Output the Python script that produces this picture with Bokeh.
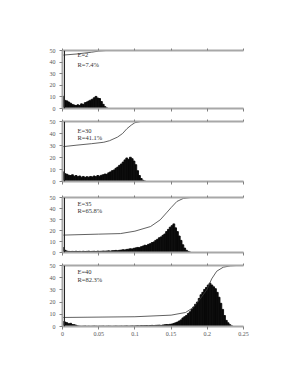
from bokeh.plotting import figure
from bokeh.layouts import column
from bokeh.models import Label, Span, LinearAxis, FixedTicker, Range1d, CustomLabelingPolicy
from bokeh.embed import file_html
from bokeh.resources import INLINE

BIN = 0.0025
x_ticks = [0, 0.05, 0.1, 0.15, 0.2, 0.25]
x_tick_labels = ["0", "0.05", "0.1", "0.15", "0.2", "0.25"]
y_ticks = [0, 10, 20, 30, 40, 50]

hist1 = [10.5, 7, 6.5, 5.5, 4.5, 3.5, 3, 2.5, 3.2, 2.6, 4, 3.4, 5, 5.6, 6.4, 7.2,
         8, 9.2, 10.4, 9, 8.6, 6, 3.6, 1.6, 0.5, 0]
hist2 = [8, 6.5, 6, 5.2, 5, 5.6, 4.4, 5, 4, 4.6, 3.6, 4.2, 3.4, 4, 3.6, 4.2, 3.8,
         4.6, 4, 5, 4.4, 5.2, 5.6, 6.2, 6, 7.2, 8, 9, 9.6, 11, 12, 13.4, 14.6, 16.2,
         18, 19.6, 18.4, 20.2, 19, 17, 14, 9, 5, 2.5, 1, 0.3, 0]
hist3 = [4.5, 2, 1.2, 1, 0.8,
         1, 0.8, 1.1, 0.9, 1, 0.7, 1.1, 0.9, 1, 1.2, 0.8, 1, 1.1, 0.9, 1.2, 1, 1.1, 1.3, 1.2,
         1.3, 1.5, 1.2, 1.6, 1.7, 1.9, 1.6, 2, 2.2, 2.5, 2.3, 2.8, 3, 3.4, 3.2, 3.8,
         4.2, 4.6, 4.4, 5.2, 5.8, 6.6, 6.4, 7.4, 8, 9, 9.6, 11, 12, 13.4, 14.2, 15.6,
         16.8, 19, 21, 23, 24.4, 26, 22.4, 19, 15, 11, 7, 4, 2, 1, 0.3]
hist4 = [4, 3.6, 3, 2.2, 2.6, 1.6, 1.5, 1, 0.5,
         0.3, 0.2, 0.3, 0.4, 0.2, 0.3, 0.2, 0.3, 0.4, 0.3, 0.2, 0.3, 0.3, 0.4, 0.2, 0.3,
         0.4, 0.3, 0.2, 0.3, 0.4, 0.3, 0.3, 0.4, 0.3, 0.4, 0.5, 0.3, 0.4, 0.5, 0.4,
         0.5, 0.6, 0.5, 0.7, 0.6, 0.7, 0.8, 0.6, 0.8, 0.9, 0.7, 0.9,
         1, 1.1, 0.9, 1.2, 1.4, 1.6, 1.5, 1.8,
         2, 2.5, 3, 3.6, 4.5, 5.4, 7, 8, 9, 10.6, 12, 14, 16, 18.2, 20, 23, 26, 28,
         30.4, 32, 34, 35.5, 34, 32.5, 31, 28, 24, 19, 14, 9, 5, 3, 1.5, 0.5, 0]

c1_x = [0, 0, 0.02, 0.04, 0.05, 0.06, 0.25]
c1_y = [0, 46, 47, 48.5, 49.5, 50, 50]
c2_x = [0, 0, 0.02, 0.04, 0.057, 0.065, 0.076, 0.083, 0.089, 0.095, 0.1, 0.108, 0.25]
c2_y = [0, 29, 30.3, 31.5, 32.7, 34, 37, 40, 44, 47, 49, 50, 50]
c3_x = [0, 0, 0.05, 0.08, 0.1, 0.1216, 0.135, 0.1445, 0.15, 0.158, 0.167, 0.177, 0.25]
c3_y = [0, 15.8, 16.7, 17.2, 19.4, 23.6, 29.7, 36.7, 40.8, 46.4, 49.2, 50, 50]
c4_x = [0, 0, 0.1, 0.15, 0.17, 0.181, 0.19, 0.2, 0.206, 0.213, 0.222, 0.232, 0.24, 0.25]
c4_y = [0, 7.4, 8, 9.3, 11.5, 15.7, 22.5, 30.8, 39, 45.3, 48.6, 49.7, 50, 50]

e_labels = ["E=2", "E=30", "E=35", "E=40"]
r_labels = ["R=7.4%", "R=41.1%", "R=65.8%", "R=82.3%"]

FONT = "Liberation Serif"
AX = "#a8a8a8"
TK = "#808080"

panels = [
    (hist1, c1_x, c1_y, 115, 50, 5, 46.7, 38.3),
    (hist2, c2_x, c2_y, 76, 6, 10, 42.5, 36.7),
    (hist3, c3_x, c3_y, 68, 3, 5, 44.4, 38.0),
    (hist4, c4_x, c4_y, 89, 6, 22, 45.0, 38.9),
]


def no_labels():
    return CustomLabelingPolicy(code="for (const i of indices) indices.unset(i); return indices")


figs = []
for i, (h, cx, cy, H, bt, bb, ey, ry) in enumerate(panels):
    last = i == len(panels) - 1
    p = figure(width=253, height=H, x_range=Range1d(0, 0.25), y_range=Range1d(0, 50),
               output_backend="svg", toolbar_location=None,
               min_border_left=62, min_border_right=10,
               min_border_top=bt, min_border_bottom=bb)
    p.outline_line_color = None
    p.grid.visible = False
    p.background_fill_color = "white"
    p.border_fill_color = "white"

    lefts = [k * BIN for k in range(len(h))]
    rights = [(k + 1) * BIN for k in range(len(h))]
    p.quad(left=lefts, right=rights, bottom=0, top=h, fill_color="#0a0a0a",
           line_color="#0a0a0a", line_width=0.9)
    p.line(cx, cy, line_color="#3a3a3a", line_width=0.8)
    p.add_layout(Span(location=0.0028, dimension="height", line_color="#222222",
                      line_width=1))

    xa = p.xaxis[0]
    xa.ticker = FixedTicker(ticks=x_ticks)
    xa.minor_tick_line_color = None
    xa.axis_line_color = AX
    xa.axis_line_width = 2
    xa.major_tick_line_color = TK
    xa.major_tick_out = 3
    xa.major_tick_in = 0
    if last:
        xa.major_label_overrides = {t: s for t, s in zip(x_ticks, x_tick_labels)}
        xa.major_label_text_font = FONT
        xa.major_label_text_font_size = "6px"
        xa.major_label_text_color = "#555555"
        xa.major_label_standoff = 2
    else:
        xa.major_label_text_font_size = "1px"
        xa.major_label_standoff = 0
        xa.major_label_policy = no_labels()

    top = LinearAxis(ticker=FixedTicker(ticks=x_ticks))
    top.minor_tick_line_color = None
    top.axis_line_color = AX
    top.axis_line_width = 2
    top.major_tick_line_color = TK
    top.major_tick_out = 2
    top.major_tick_in = 0
    top.major_label_text_font_size = "1px"
    top.major_label_standoff = 0
    top.major_label_policy = no_labels()
    p.add_layout(top, "above")

    ya = p.yaxis[0]
    ya.ticker = FixedTicker(ticks=y_ticks)
    ya.minor_tick_line_color = None
    ya.axis_line_color = AX
    ya.axis_line_width = 2
    ya.major_tick_line_color = TK
    ya.major_tick_out = 3
    ya.major_tick_in = 0
    ya.major_label_text_font = FONT
    ya.major_label_text_font_size = "6px"
    ya.major_label_text_color = "#555555"
    ya.major_label_standoff = 4

    for txt, yy in ((e_labels[i], ey), (r_labels[i], ry)):
        p.add_layout(Label(x=0.0207, y=yy, text=txt, text_font=FONT,
                           text_font_size="6.5px", text_color="#333333",
                           text_baseline="middle", text_align="left"))
    if i == 1:
        p.add_layout(Label(x=-0.0373, y=-4.2, text="p(λ)", text_font=FONT,
                           text_font_size="7px", text_color="#333333",
                           text_baseline="middle", text_align="center"))
    if last:
        p.add_layout(Label(x=0.174, y=-7.6, text="λ", text_font=FONT,
                           text_font_size="7px", text_color="#333333",
                           text_baseline="middle", text_align="center"))
    figs.append(p)

layout = column(*figs, spacing=0)
open("out.html", "w").write(file_html(layout, INLINE))
